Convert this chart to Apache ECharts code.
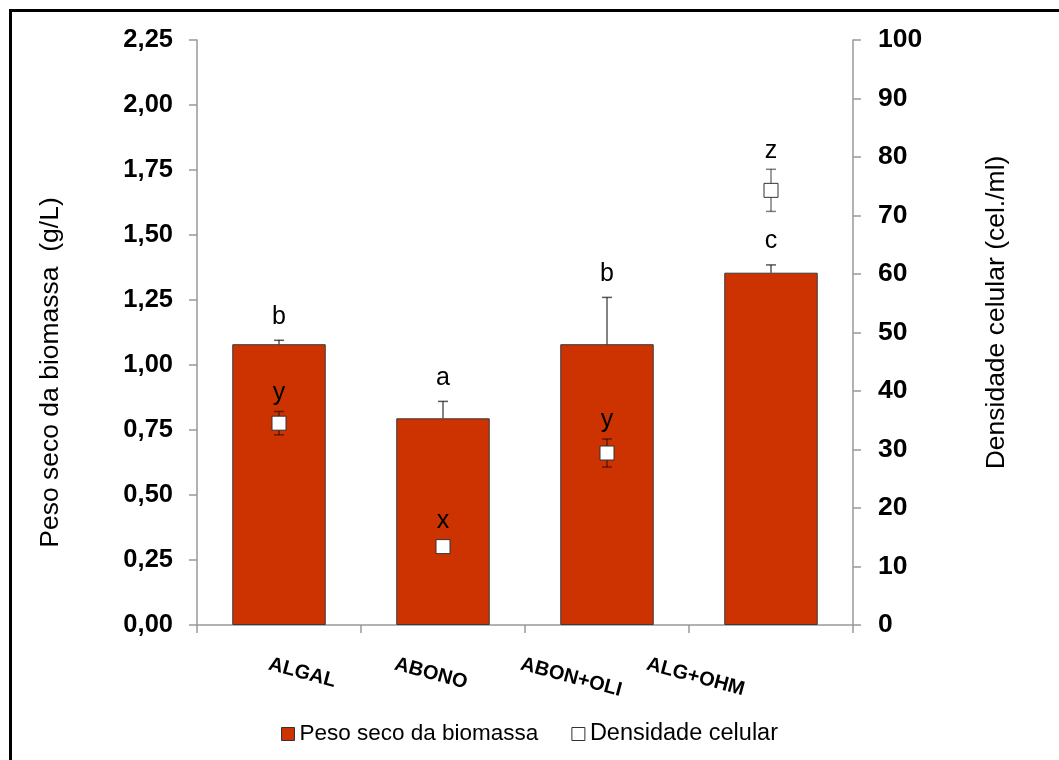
<!DOCTYPE html>
<html><head><meta charset="utf-8">
<script src="https://cdn.jsdelivr.net/npm/echarts@6/dist/echarts.min.js"></script>
<style>html,body{margin:0;padding:0;background:#fff}#c{width:1059px;height:760px}</style>
</head><body><div id="c"></div>
<script>
const categories = ['ALGAL', 'ABONO', 'ABON+OLI', 'ALG+OHM'];
const biomass = [1.08, 0.795, 1.08, 1.355];
const biomassErr = [0.015, 0.065, 0.18, 0.03];
const biomassLetters = ['b', 'a', 'b', 'c'];
const density = [34.5, 13.4, 29.4, 74.3];
const densityErr = [2.0, 0, 2.4, 3.6];
const densityLetters = ['y', 'x', 'y', 'z'];

const FONT = '"Liberation Sans", Arial, sans-serif';
const chart = echarts.init(document.getElementById('c'), null, {renderer: 'canvas'});

function errRender(values, errs, letters, both, lineColor, letterGap, markerHalf) {
  return function (params, api) {
    const i = api.value(0);
    const v = values[i], e = errs[i];
    const c = api.coord([i, v]);
    const top = api.coord([i, v + e]);
    const bot = api.coord([i, both ? v - e : v]);
    const cap = 5;
    const children = [];
    if (e > 0) {
      children.push({type: 'line', shape: {x1: c[0], y1: top[1], x2: c[0], y2: bot[1]},
        style: {stroke: lineColor, lineWidth: 1.5}});
      children.push({type: 'line', shape: {x1: c[0] - cap, y1: top[1], x2: c[0] + cap, y2: top[1]},
        style: {stroke: lineColor, lineWidth: 1.5}});
      if (both) children.push({type: 'line', shape: {x1: c[0] - cap, y1: bot[1], x2: c[0] + cap, y2: bot[1]},
        style: {stroke: lineColor, lineWidth: 1.5}});
    }
    const ty = Math.min(top[1], c[1] - markerHalf) - letterGap;
    children.push({type: 'text', style: {text: letters[i], x: c[0], y: ty, align: 'center',
      verticalAlign: 'bottom', font: '25px ' + FONT, fill: '#000'}});
    return {type: 'group', children: children};
  };
}

const idx = categories.map((_, i) => i);

const option = {
  animation: false,
  backgroundColor: '#fff',
  textStyle: {fontFamily: FONT},
  grid: [
    {left: 197, right: 206, top: 40, bottom: 135, outerBoundsMode: 'none'},
    {left: 206, width: 504, top: 600, height: 25, outerBoundsMode: 'none'}
  ],
  legend: {
    left: 281, top: 722, padding: 0, itemWidth: 13, itemHeight: 13, itemGap: 33,
    textStyle: {fontSize: 22.5, color: '#000', fontFamily: FONT},
    data: [
      {name: 'Peso seco da biomassa', icon: 'rect', itemStyle: {color: '#CC3300', borderColor: '#333', borderWidth: 1}},
      {name: 'Densidade celular', icon: 'rect', itemStyle: {color: '#fff', borderColor: '#333', borderWidth: 1},
        textStyle: {fontSize: 23.5}}
    ]
  },
  xAxis: [
    {type: 'category', gridIndex: 0, data: categories, boundaryGap: true,
      axisLine: {lineStyle: {color: '#999', width: 1.5}},
      axisTick: {show: true, length: 8, alignWithLabel: false, lineStyle: {color: '#999', width: 1.5}},
      axisLabel: {show: false}},
    {type: 'category', gridIndex: 1, data: categories, boundaryGap: true,
      axisLine: {show: false}, axisTick: {show: false},
      axisLabel: {show: true, interval: 0, rotate: -15, margin: 39, fontSize: 20, fontWeight: 'bold', color: '#000', fontFamily: FONT}}
  ],
  yAxis: [
    {type: 'value', gridIndex: 0, min: 0, max: 2.25, interval: 0.25, position: 'left',
      name: 'Peso seco da biomassa  (g/L)', nameLocation: 'middle', nameRotate: 90, nameGap: 133,
      nameTextStyle: {fontSize: 26.5, color: '#000', fontFamily: FONT, padding: [0, 80, 0, 0]},
      axisLine: {show: true, lineStyle: {color: '#999', width: 1.5}},
      axisTick: {show: true, inside: false, length: 8, lineStyle: {color: '#999', width: 1.5}},
      splitLine: {show: false},
      axisLabel: {margin: 24, fontSize: 25.5, fontWeight: 'bold', color: '#000', fontFamily: FONT,
        formatter: v => v.toFixed(2).replace('.', ',')}},
    {type: 'value', gridIndex: 0, min: 0, max: 100, interval: 10, position: 'right',
      name: 'Densidade celular (cel./ml)', nameLocation: 'middle', nameRotate: 90, nameGap: 130,
      nameTextStyle: {fontSize: 26.5, color: '#000', fontFamily: FONT, padding: [0, 0, 0, 40]},
      axisLine: {show: true, lineStyle: {color: '#999', width: 1.5}},
      axisTick: {show: true, inside: false, length: 8, lineStyle: {color: '#999', width: 1.5}},
      splitLine: {show: false},
      axisLabel: {margin: 25, fontSize: 26.5, fontWeight: 'bold', color: '#000', fontFamily: FONT}},
    {type: 'value', gridIndex: 1, show: false}
  ],
  series: [
    {name: 'Peso seco da biomassa', type: 'bar', xAxisIndex: 0, yAxisIndex: 0, data: biomass,
      barWidth: '57%', itemStyle: {color: '#CC3300', borderColor: '#3a3a3a', borderWidth: 1}, z: 2},
    {name: 'errB', type: 'custom', xAxisIndex: 0, yAxisIndex: 0, data: idx, z: 3,
      renderItem: errRender(biomass, biomassErr, biomassLetters, false, 'rgba(0,0,0,0.65)', 11, 0)},
    {name: 'errD', type: 'custom', xAxisIndex: 0, yAxisIndex: 1, data: idx, z: 4,
      renderItem: errRender(density, densityErr, densityLetters, true, 'rgba(0,0,0,0.5)', 6, 7)},
    {name: 'Densidade celular', type: 'scatter', xAxisIndex: 0, yAxisIndex: 1, data: density,
      symbol: 'rect', symbolSize: 14, z: 5,
      itemStyle: {color: '#fff', borderColor: '#333', borderWidth: 1, opacity: 1}}
  ],
  graphic: [
    {type: 'line', shape: {x1: 9, y1: 10.5, x2: 1059, y2: 10.5}, style: {stroke: '#000', lineWidth: 3}},
    {type: 'line', shape: {x1: 10.5, y1: 9, x2: 10.5, y2: 760}, style: {stroke: '#000', lineWidth: 3}}
  ]
};
chart.setOption(option);
</script>
</body></html>
